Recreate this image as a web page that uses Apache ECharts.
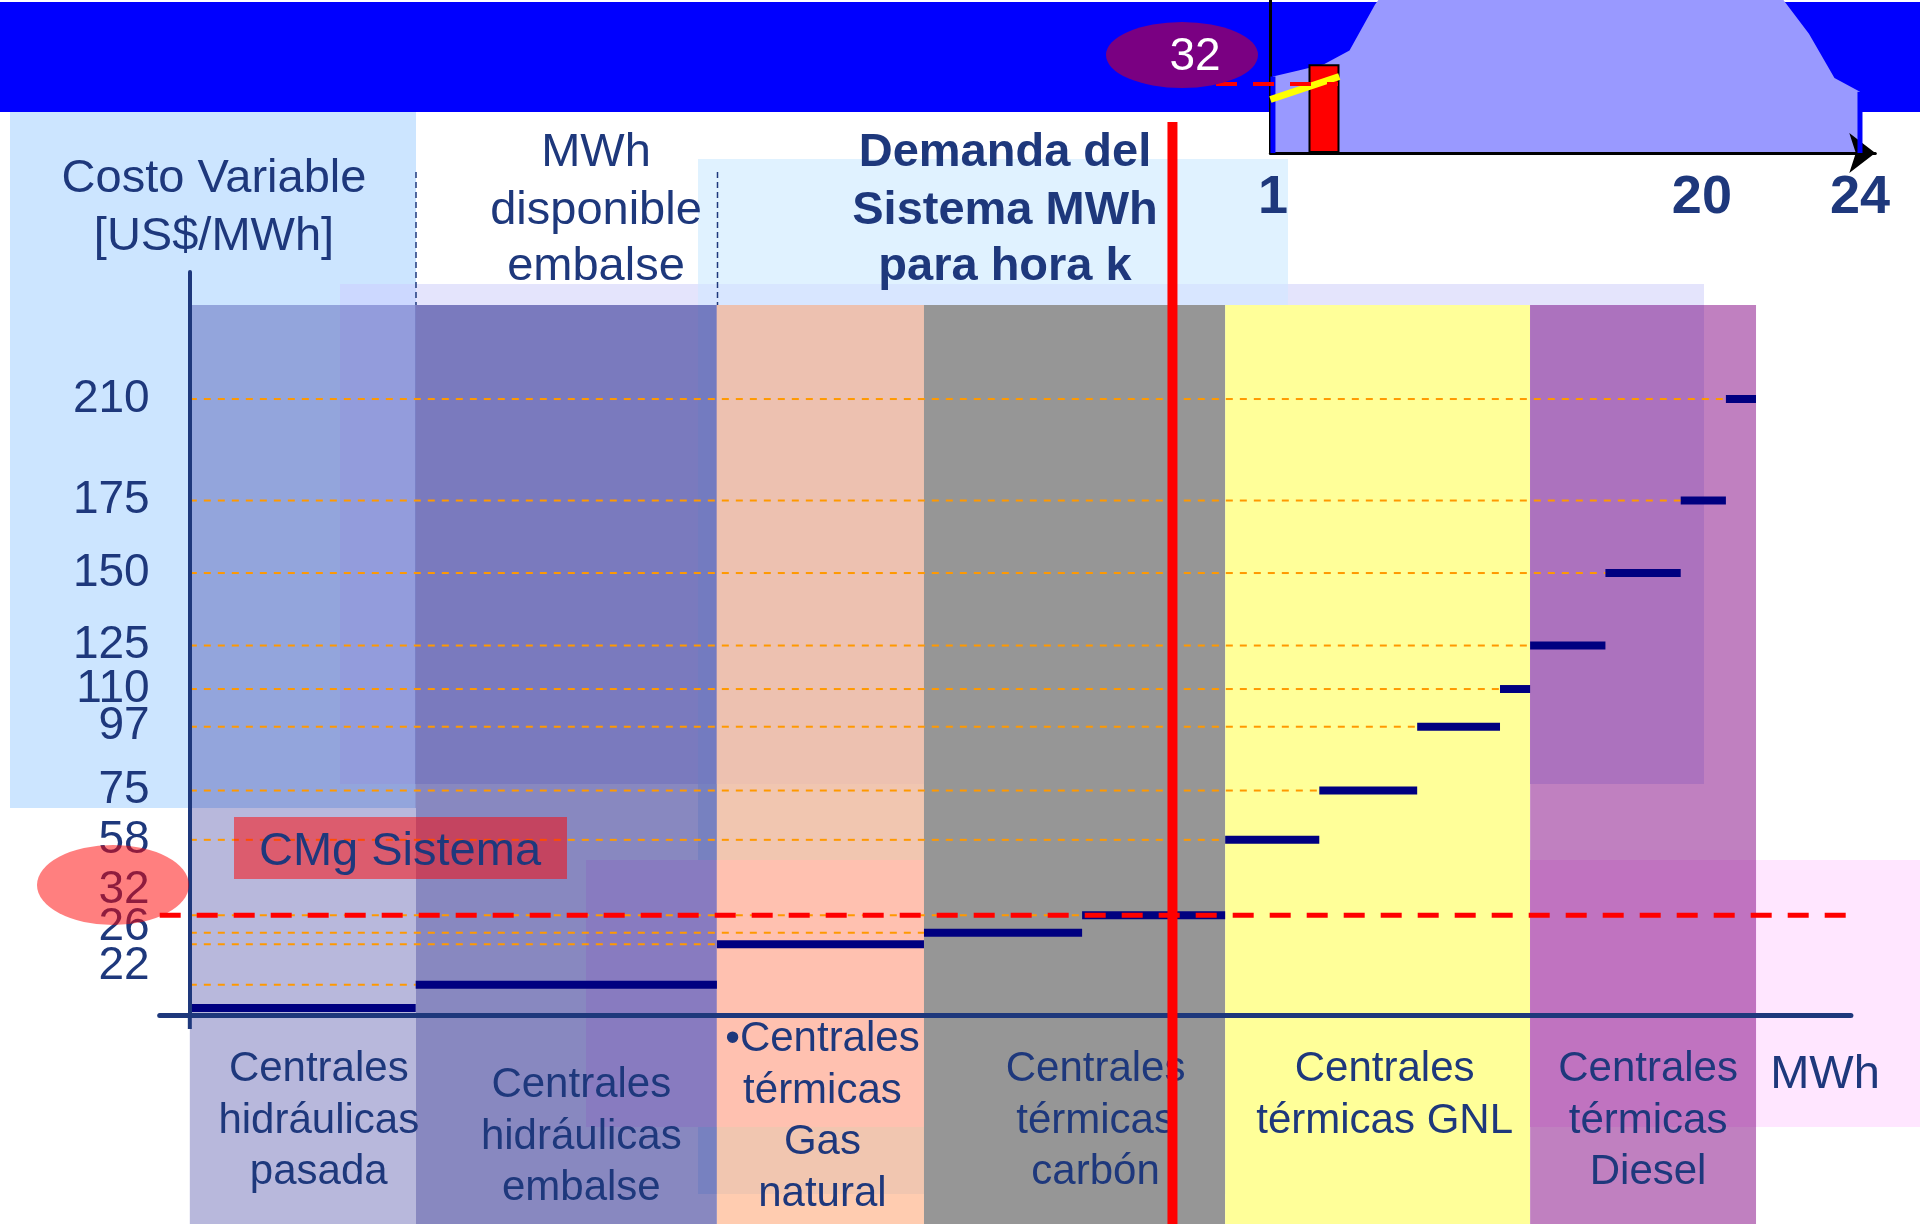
<!DOCTYPE html>
<html>
<head>
<meta charset="utf-8">
<script src="https://cdn.jsdelivr.net/npm/echarts@6/dist/echarts.min.js"></script>
<style>
  html, body { margin: 0; padding: 0; background: #ffffff; }
  #chart { width: 1920px; height: 1224px; }
</style>
</head>
<body>
<div id="chart"></div>
<script>
// ---------- data ----------
// Technology groups of the merit-order curve
const groupNames = [
  'Centrales\nhidráulicas\npasada',
  'Centrales\nhidráulicas\nembalse',
  '•Centrales\ntérmicas\nGas\nnatural',
  'Centrales\ntérmicas\ncarbón',
  'Centrales\ntérmicas GNL',
  'Centrales\ntérmicas\nDiesel'
];
// Generating units in dispatch order: group, available energy (MWh) and variable cost (US$/MWh)
const unitGroup    = [0, 1, 2, 3, 3, 4, 4, 4, 4, 5, 5, 5, 5];
const unitCapacity = [300, 400, 275, 210, 190, 125, 130, 110, 40, 100, 100, 60, 40];
const unitCost     = [0, 8, 22, 26, 32, 58, 75, 97, 110, 125, 150, 175, 210];
// Cost values printed on the vertical axis
const costTicks = [22, 26, 32, 58, 75, 97, 110, 125, 150, 175, 210];
// System demand for hour k (MWh)
const demandK = 1305;
const hourK = 3;
// Daily load profile (share of the inset height, %)
const hours = [1, 2, 3, 4, 5, 6, 7, 8, 9, 10, 11, 12, 13, 14, 15, 16, 17, 18, 19, 20, 21, 22, 23, 24];
const hourlyDemand = [50, 54, 58, 67, 97, 120, 132, 138, 141, 143, 144, 143, 141, 140, 141, 142, 143, 142, 138, 125, 100, 78, 49, 40];
const hourTicks = [1, 20, 24];
// Highlight stroke drawn across the first hours
const highlightSeg = [[0.9, 35], [3.6, 50]];

// ---------- derived values ----------
const unitStart = [];
let acc = 0;
unitCapacity.forEach(c => { unitStart.push(acc); acc += c; });
const unitEnd = unitStart.map((s, i) => s + unitCapacity[i]);
const groupStart = groupNames.map((_, g) => unitStart[unitGroup.indexOf(g)]);
const groupEnd = groupNames.map((_, g) => unitEnd[unitGroup.lastIndexOf(g)]);
// Marginal unit: the one whose cumulative energy covers the demand
const marginalIdx = unitEnd.findIndex(e => e >= demandK);
const cmg = unitCost[marginalIdx];

// ---------- styles ----------
const NAVY = '#1E387C';
const FONT = '"Liberation Sans", Arial, sans-serif';
// band colours: translucent bands take the tint of the panels behind them
const groupTint = [
  { mode: 'multiply', rgb: [184, 184, 220] },
  { mode: 'multiply', rgb: [136, 136, 192] },
  { mode: 'alpha', rgb: [255, 162, 111], a: 0.55 },
  { mode: 'opaque', rgb: [150, 150, 150] },
  { mode: 'opaque', rgb: [255, 255, 153] },
  { mode: 'multiply', rgb: [192, 128, 192] }
];
const labelDx = [16, 15, 2, 21, 7, 5];
const labelDy = [36, 52, 6, 36, 36, 36];
const bandTop = 242.4;          // top of the coloured bands, in cost units
const xMin = -40, xMax = 2206;
const yMin = -2.4, yMax = 253.8;
const cmgLineEnd = 2220;
// Vertical nudges (px) for tick labels that would otherwise collide;
// each nudged label gets its own label-only axis
const tickShift = { 22: 22, 26: -5, 32: -25 };

// background panels (pixel layout), in paint order
const panels = [
  { x: 340, y: 284, w: 1364, h: 500, rgb: [228, 228, 252] },
  { x: 10,  y: 112, w: 406,  h: 696, rgb: [204, 229, 255] },
  { x: 698, y: 159, w: 590,  h: 1035, rgb: [224, 242, 255] },
  { x: 340, y: 284, w: 76,   h: 500, rgb: [204, 216, 255] },
  { x: 698, y: 284, w: 590,  h: 500, rgb: [216, 230, 255] },
  { x: 586, y: 860, w: 1334, h: 267, rgb: [255, 230, 255] }
];

function rgbStr(c) { return 'rgb(' + c.map(v => Math.round(v)).join(',') + ')'; }
function tintOver(t, back) {
  if (t.mode === 'multiply') return t.rgb.map((v, i) => v * back[i] / 255);
  if (t.mode === 'alpha') return t.rgb.map((v, i) => t.a * v + (1 - t.a) * back[i]);
  return t.rgb;
}

function text(x, y, str, size, weight, fill, z, align) {
  return {
    type: 'text', x: x, y: y, z: z, silent: true,
    style: {
      text: str, fill: fill,
      font: weight + ' ' + size + 'px ' + FONT,
      align: align || 'center', textAlign: align || 'center',
      verticalAlign: 'middle', textVerticalAlign: 'middle'
    }
  };
}
function rect(x, y, w, h, fill, z) {
  return { type: 'rect', silent: true, z: z, shape: { x: x, y: y, width: w, height: h }, style: { fill: fill } };
}

const chart = echarts.init(document.getElementById('chart'), null, { renderer: 'canvas', width: 1920, height: 1224 });

const costLabelStyle = { fontSize: 46, fontFamily: FONT, color: NAVY };

// label-only cost axes for the crowded ticks
const extraCostAxes = Object.keys(tickShift).map(k => {
  const s = tickShift[k];
  return {
    type: 'value', gridIndex: 0, min: yMin, max: yMax, z: 9,
    position: 'left', offset: 0,
    axisLine: { show: false, onZero: false }, axisTick: { show: false }, splitLine: { show: false },
    axisLabel: {
      customValues: [Number(k)], margin: 10, hideOverlap: false,
      showMinLabel: true, showMaxLabel: true,
      formatter: v => '{t|' + v + '}',
      rich: {
        t: Object.assign({}, costLabelStyle, {
          padding: s > 0 ? [2 * s, 0, 0, 0] : [0, 0, -2 * s, 0]
        })
      }
    }
  };
});

const option = {
  animation: false,
  backgroundColor: '#ffffff',
  grid: [
    { left: 159.7, right: 69.1, top: 272, bottom: 209, containLabel: false, outerBoundsMode: 'none' },
    { left: 1270.4, right: 44.7, top: 0, height: 153, containLabel: false, outerBoundsMode: 'none' }
  ],
  xAxis: [
    {
      type: 'value', gridIndex: 0, min: xMin, max: xMax, z: 9,
      axisLine: { show: true, onZero: false, lineStyle: { color: NAVY, width: 5 } },
      axisTick: { show: false }, axisLabel: { show: false }, splitLine: { show: false }
    },
    {
      type: 'value', gridIndex: 1, min: 0.9, max: 24.6, z: 6,
      axisLine: { show: true, onZero: false, lineStyle: { color: '#000000', width: 3 },
                  symbol: ['none', 'arrow'], symbolSize: [30, 26] },
      axisTick: { show: false }, splitLine: { show: false },
      axisLabel: {
        customValues: hourTicks, margin: 18, hideOverlap: false,
        showMinLabel: true, showMaxLabel: true,
        formatter: v => (v === hourTicks[1] ? '{s|' + v + '}' : '{n|' + v + '}'),
        rich: {
          n: { fontSize: 54, fontWeight: 'bold', fontFamily: FONT, color: NAVY },
          s: { fontSize: 54, fontWeight: 'bold', fontFamily: FONT, color: NAVY, padding: [0, 112, 0, 0] }
        }
      }
    }
  ],
  yAxis: [
    {
      type: 'value', gridIndex: 0, min: yMin, max: yMax, z: 9, position: 'left',
      axisLine: { show: true, onZero: true, lineStyle: { color: NAVY, width: 4 } },
      axisTick: { show: false }, splitLine: { show: false },
      axisLabel: Object.assign({
        customValues: costTicks.filter(v => !tickShift[v]), margin: 10, hideOverlap: false,
        showMinLabel: true, showMaxLabel: true
      }, costLabelStyle)
    },
    {
      type: 'value', gridIndex: 1, min: 0, max: 100, z: 6, position: 'left',
      axisLine: { show: true, onZero: false, lineStyle: { color: '#000000', width: 3 } },
      axisTick: { show: false }, axisLabel: { show: false }, splitLine: { show: false }
    }
  ].concat(extraCostAxes),
  series: [
    // coloured technology bands
    {
      type: 'custom', name: 'bands', z: 5, silent: true, clip: false,
      xAxisIndex: 0, yAxisIndex: 0,
      data: groupNames.map((_, g) => [groupStart[g], groupEnd[g]]),
      renderItem: (params, api) => {
        const g = params.dataIndex;
        const t = groupTint[g];
        const p0 = api.coord([groupStart[g], bandTop]);
        const p1 = api.coord([groupEnd[g], 0]);
        const bx0 = p0[0], bx1 = p1[0], by0 = p0[1], by1 = api.getHeight();
        const children = [{
          type: 'rect',
          shape: { x: bx0, y: by0, width: bx1 - bx0, height: by1 - by0 },
          style: { fill: rgbStr(tintOver(t, [255, 255, 255])) }
        }];
        if (t.mode !== 'opaque') {
          panels.forEach(p => {
            const x0 = Math.max(bx0, p.x), x1 = Math.min(bx1, p.x + p.w);
            const y0 = Math.max(by0, p.y), y1 = Math.min(by1, p.y + p.h);
            if (x1 > x0 && y1 > y0) {
              children.push({
                type: 'rect',
                shape: { x: x0, y: y0, width: x1 - x0, height: y1 - y0 },
                style: { fill: rgbStr(tintOver(t, p.rgb)) }
              });
            }
          });
        }
        return { type: 'group', children: children };
      }
    },
    // dashed guides from the cost axis to each unit
    {
      type: 'custom', name: 'guides', z: 6, silent: true, clip: false,
      xAxisIndex: 0, yAxisIndex: 0,
      data: unitStart.map((s, i) => [s, unitCost[i]]).filter(d => d[0] > 0),
      renderItem: (params, api) => {
        const a = api.coord([0, api.value(1)]);
        const b = api.coord([api.value(0), api.value(1)]);
        return {
          type: 'line',
          shape: { x1: a[0], y1: a[1], x2: b[0], y2: b[1] },
          style: { stroke: '#FF9900', lineWidth: 2, lineDash: [7, 7] }
        };
      }
    },
    // merit-order steps, one per unit
    {
      type: 'custom', name: 'units', z: 7, silent: true, clip: false,
      xAxisIndex: 0, yAxisIndex: 0,
      data: unitStart.map((s, i) => [s, unitEnd[i], unitCost[i]]),
      renderItem: (params, api) => {
        const a = api.coord([api.value(0), api.value(2)]);
        const b = api.coord([api.value(1), api.value(2)]);
        return {
          type: 'rect',
          shape: { x: a[0], y: a[1] - 4, width: b[0] - a[0], height: 8 },
          style: { fill: '#000080' }
        };
      }
    },
    // vertical axis continues a little below the energy axis
    {
      type: 'custom', name: 'ejeY', z: 9, silent: true, clip: false,
      xAxisIndex: 0, yAxisIndex: 0,
      data: [[0, yMin]],
      renderItem: (params, api) => {
        const a = api.coord([api.value(0), api.value(1)]);
        return {
          type: 'line',
          shape: { x1: a[0], y1: a[1], x2: a[0], y2: a[1] + 14 },
          style: { stroke: NAVY, lineWidth: 4 }
        };
      }
    },
    // system marginal cost
    {
      type: 'custom', name: 'CMg', z: 10, silent: true, clip: false,
      xAxisIndex: 0, yAxisIndex: 0,
      data: [[cmg]],
      renderItem: (params, api) => {
        const a = api.coord([xMin, api.value(0)]);
        const b = api.coord([cmgLineEnd, api.value(0)]);
        return {
          type: 'line',
          shape: { x1: a[0], y1: a[1], x2: b[0], y2: b[1] },
          style: { stroke: '#FF0000', lineWidth: 5, lineDash: [21, 16] }
        };
      }
    },
    // technology names under the axis
    {
      type: 'custom', name: 'groupLabels', z: 11, silent: true, clip: false,
      xAxisIndex: 0, yAxisIndex: 0,
      data: groupNames.map((_, g) => [groupStart[g], groupEnd[g]]),
      renderItem: (params, api) => {
        const g = params.dataIndex;
        const a = api.coord([groupStart[g], 0]);
        const b = api.coord([groupEnd[g], 0]);
        return {
          type: 'text',
          x: (a[0] + b[0]) / 2 + labelDx[g],
          y: a[1] + labelDy[g],
          style: {
            text: groupNames[g], fill: NAVY, font: '42px ' + FONT,
            align: 'center', textAlign: 'center', verticalAlign: 'top', textVerticalAlign: 'top',
            lineHeight: 51.5
          }
        };
      }
    },
    // demand of hour k
    {
      type: 'custom', name: 'demanda', z: 15, silent: true, clip: false,
      xAxisIndex: 0, yAxisIndex: 0,
      data: [[demandK]],
      renderItem: (params, api) => {
        const p = api.coord([api.value(0), 0]);
        return {
          type: 'line',
          shape: { x1: p[0], y1: 122, x2: p[0], y2: api.getHeight() },
          style: { stroke: '#FF0000', lineWidth: 10 }
        };
      }
    },
    // inset: daily load profile
    {
      type: 'line', name: 'perfil', z: 5, silent: true, clip: true,
      xAxisIndex: 1, yAxisIndex: 1,
      data: hours.map((h, i) => [h, hourlyDemand[i]]),
      showSymbol: false, symbol: 'none',
      lineStyle: { width: 0, color: '#9999FF' },
      areaStyle: { color: '#9999FF', opacity: 1 }
    },
    {
      type: 'custom', name: 'bordes', z: 7, silent: true, clip: false,
      xAxisIndex: 1, yAxisIndex: 1,
      data: [[hours[0], hourlyDemand[0]], [hours[hours.length - 1], hourlyDemand[hours.length - 1]]],
      renderItem: (params, api) => {
        const a = api.coord([api.value(0), 0]);
        const b = api.coord([api.value(0), api.value(1)]);
        return {
          type: 'line',
          shape: { x1: a[0], y1: a[1], x2: b[0], y2: b[1] },
          style: { stroke: '#0000FF', lineWidth: 5 }
        };
      }
    },
    {
      type: 'bar', name: 'hora k', z: 8, silent: true,
      xAxisIndex: 1, yAxisIndex: 1,
      data: [[hourK, hourlyDemand[hourK - 1]]],
      barWidth: 31,
      itemStyle: { color: '#FF0000', borderColor: '#000000', borderWidth: 2 }
    },
    {
      type: 'line', name: 'tramo', z: 9, silent: true, clip: true,
      xAxisIndex: 1, yAxisIndex: 1,
      data: highlightSeg,
      showSymbol: false, symbol: 'none',
      lineStyle: { color: '#FFFF00', width: 7 }
    }
  ],
  graphic: {
    elements: [
      // banner
      rect(0, 2, 1920, 110, '#0000FF', 0)
    ].concat(
      // background panels
      panels.map((p, i) => rect(p.x, p.y, p.w, p.h, rgbStr(p.rgb), 1 + i * 0.1))
    ).concat([
      // column headers
      text(214, 179, 'Costo Variable', 47, 'normal', NAVY, 4),
      text(214, 237, '[US$/MWh]', 47, 'normal', NAVY, 4),
      text(596, 153, 'MWh', 47, 'normal', NAVY, 4),
      text(596, 211, 'disponible', 47, 'normal', NAVY, 4),
      text(596, 267, 'embalse', 47, 'normal', NAVY, 4),
      text(1005, 153, 'Demanda del', 47, 'bold', NAVY, 4),
      text(1005, 211, 'Sistema MWh', 47, 'bold', NAVY, 4),
      text(1005, 267, 'para hora k', 47, 'bold', NAVY, 4),
      {
        type: 'line', z: 4, silent: true,
        shape: { x1: 416, y1: 172, x2: 416, y2: 305 },
        style: { stroke: NAVY, lineWidth: 1.5, lineDash: [6, 4] }
      },
      {
        type: 'line', z: 4, silent: true,
        shape: { x1: 717.5, y1: 172, x2: 717.5, y2: 305 },
        style: { stroke: NAVY, lineWidth: 1.5, lineDash: [6, 4] }
      },
      // axis unit
      text(1825, 1075, 'MWh', 47, 'normal', NAVY, 11),
      // marginal cost tag
      rect(234, 817, 333, 62, 'rgba(255,0,0,0.5)', 12),
      text(400, 852, 'CMg Sistema', 47, 'normal', NAVY, 13),
      {
        type: 'circle', z: 14, silent: true, x: 113, y: 885, scaleY: 40 / 76,
        shape: { cx: 0, cy: 0, r: 76 },
        style: { fill: 'rgba(255,0,0,0.5)' }
      },
      // inset annotation
      {
        type: 'line', z: 10, silent: true,
        shape: { x1: 1216, y1: 84, x2: 1338, y2: 84 },
        style: { stroke: '#FF0000', lineWidth: 4, lineDash: [21, 16] }
      },
      {
        type: 'circle', z: 11, silent: true, x: 1182, y: 55, scaleY: 33 / 76,
        shape: { cx: 0, cy: 0, r: 76 },
        style: { fill: '#7A0082' }
      },
      text(1195, 57, String(cmg), 46, 'normal', '#FFFFFF', 12)
    ])
  }
};

chart.setOption(option);
</script>
</body>
</html>
